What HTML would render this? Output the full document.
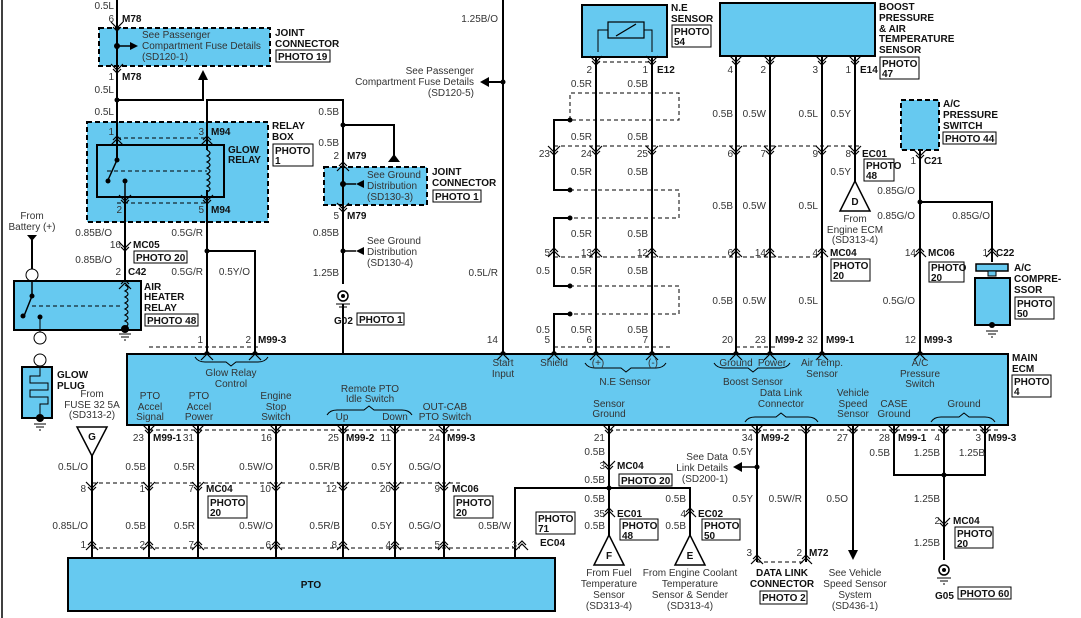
<!DOCTYPE html>
<html><head><meta charset="utf-8"><style>
body{margin:0;background:#fff;}
svg{display:block;font-family:"Liberation Sans",sans-serif;}
.t{font-size:10px;fill:#333;}
.b{font-size:10px;font-weight:bold;fill:#111;}
.m{text-anchor:middle;}
.r{text-anchor:end;}
.w{stroke:#000;stroke-width:2;fill:none;}
.d{stroke:#000;stroke-width:1;stroke-dasharray:4,3;fill:none;}
.c{fill:#66c9f0;stroke:#000;stroke-width:2;}
.cd{fill:#66c9f0;stroke:#000;stroke-width:2;stroke-dasharray:5,3;}
.p{fill:#fff;stroke:#000;stroke-width:1;}
</style></head><body>
<svg width="1081" height="618" viewBox="0 0 1081 618">
<defs>
<path id="v" d="M-6,-4 L0,2 L6,-4 M-4,1 L0,5 L4,1" stroke="#000" stroke-width="1.2" fill="none"/>
<path id="a" d="M-6,4 L0,-2 L6,4 M-4,-1 L0,-5 L4,-1" stroke="#000" stroke-width="1.2" fill="none"/>
<g id="gnd"><circle r="5" fill="#fff" stroke="#000" stroke-width="1.5"/><circle r="2" fill="#000"/><path d="M-7,8 H7 M-4,11 H4 M-1,14 H1" stroke="#000"/></g>
<path id="eg" d="M-6,0 H6 M-4,3 H4 M-1,6 H1" stroke="#000" fill="none"/>
</defs>
<line x1="2" y1="0" x2="2" y2="618" stroke="#000" stroke-width="1.5"/>

<!-- ECM and PTO -->
<rect class="c" x="127" y="354" width="881" height="71"/>
<rect class="c" x="68" y="558" width="487" height="53"/>
<text class="b m" x="311" y="588">PTO</text>

<!-- top-left wires -->
<path class="w" d="M117,0 V122 M117,100 H203 V78 M207,122 V100 H343 V354 M343,125 H394 V156 M125,222 V281 M207,222 V354 M207,251 H255 V354 M503,0 V354 M503,82 H488"/>
<path d="M198,80 L203,70 L208,80Z M388,162 L394,154 L400,162Z M480,82 L489,77 L489,87Z"/>
<circle cx="117" cy="100" r="2.5"/><circle cx="343" cy="125" r="2.5"/><circle cx="207" cy="251" r="2.5"/><circle cx="503" cy="82" r="2.5"/>
<rect class="cd" x="99" y="28" width="171" height="38"/>
<path class="w" d="M117,28 V66"/><circle cx="117" cy="46" r="3"/><path d="M117,46 H130" stroke="#000" stroke-width="1.5"/><path d="M130,42 L138,46 L130,50Z"/>
<text class="t" x="142" y="38">See Passenger</text><text class="t" x="142" y="49">Compartment Fuse Details</text><text class="t" x="142" y="60">(SD120-1)</text>
<text class="t r" x="114" y="9">0.5L</text><text class="t r" x="114" y="22">6</text><text class="b" x="122" y="22">M78</text>
<use href="#v" x="117" y="26"/><use href="#v" x="117" y="68"/>
<text class="b" x="275" y="36">JOINT</text><text class="b" x="275" y="47">CONNECTOR</text>
<rect class="p" x="276" y="50" width="54" height="12"/><text class="b" x="278" y="60">PHOTO 19</text>
<text class="t r" x="114" y="80">1</text><text class="b" x="122" y="80">M78</text>
<text class="t r" x="114" y="93">0.5L</text><text class="t r" x="114" y="115">0.5L</text>

<rect class="cd" x="87" y="122" width="181" height="100"/>
<rect x="97" y="145" width="127" height="52" fill="none" stroke="#000" stroke-width="2"/>
<path class="d" d="M117,138 H207 M117,203 H207 M107,171 H207"/>
<path class="w" d="M117,122 V160 M125,197 V222 M207,122 V150 M207,190 V222"/>
<path d="M207,150 q6,3 0,6 q6,3 0,6 q6,3 0,6 q6,3 0,6 q6,3 0,6 q6,3 0,6 q6,3 0,6" stroke="#000" fill="none" stroke-width="1.2"/>
<path d="M117,160 L108,180" stroke="#000" stroke-width="1.5"/><circle cx="117" cy="160" r="2.5"/><circle cx="108" cy="181" r="2.5"/><circle cx="125" cy="181" r="2.5"/>
<path d="M125,181 V200" stroke="#000" stroke-width="1.5"/>
<use href="#a" x="117" y="141"/><use href="#a" x="207" y="141"/><use href="#v" x="125" y="199"/><use href="#v" x="207" y="199"/>
<text class="t r" x="114" y="135">1</text><text class="t r" x="204" y="135">3</text><text class="b" x="211" y="135">M94</text>
<text class="t r" x="122" y="213">2</text><text class="t r" x="204" y="213">5</text><text class="b" x="211" y="213">M94</text>
<text class="b" x="228" y="153">GLOW</text><text class="b" x="228" y="163">RELAY</text>
<text class="b" x="272" y="129">RELAY</text><text class="b" x="272" y="140">BOX</text>
<rect class="p" x="273" y="144" width="40" height="22"/><text class="b" x="275" y="154">PHOTO</text><text class="b" x="275" y="164">1</text>

<text class="t m" x="32" y="219">From</text><text class="t m" x="32" y="230">Battery (+)</text>
<path d="M27,235 L37,235 L32,241Z"/><path class="w" d="M32,240 V269"/><circle cx="32" cy="275" r="6" fill="#fff" stroke="#000"/>
<rect class="c" x="14" y="281" width="127" height="49"/>
<path d="M32,281 V296 L24,316" stroke="#000" stroke-width="1.5" fill="none"/><circle cx="32" cy="296" r="2.5"/><circle cx="23" cy="316" r="2.5"/><circle cx="40" cy="317" r="2.5"/>
<path class="d" d="M32,306 H122"/>
<path d="M125,285 q6,3 0,6 q6,3 0,6 q6,3 0,6 q6,3 0,6 q6,3 0,6 q6,3 0,6 q6,3 0,6" stroke="#000" fill="none" stroke-width="1.2"/>
<circle cx="125" cy="329" r="4"/><use href="#eg" x="125" y="334"/>
<path d="M40,318 V332" stroke="#000"/><circle cx="40" cy="338" r="6" fill="#fff" stroke="#000"/><circle cx="40" cy="360" r="6" fill="#fff" stroke="#000"/>
<rect class="c" x="22" y="367" width="30" height="51"/>
<path d="M40,367 V376 H30 V383 H48 V390 H30 V397 H48 V404 H40 V418" stroke="#000" fill="none"/>
<circle cx="40" cy="418" r="4"/><use href="#eg" x="40" y="424"/>
<text class="b" x="57" y="378">GLOW</text><text class="b" x="57" y="389">PLUG</text>
<text class="t r" x="112" y="236">0.85B/O</text><text class="t r" x="121" y="248">16</text><text class="b" x="133" y="248">MC05</text>
<use href="#v" x="125" y="246"/>
<rect class="p" x="134" y="251" width="53" height="12"/><text class="b" x="136" y="261">PHOTO 20</text>
<text class="t r" x="112" y="263">0.85B/O</text><text class="t r" x="121" y="275">2</text><text class="b" x="128" y="275">C42</text>
<use href="#a" x="125" y="285"/>
<text class="t r" x="203" y="236">0.5G/R</text><text class="t r" x="203" y="275">0.5G/R</text><text class="t r" x="250" y="275">0.5Y/O</text>
<text class="b" x="144" y="290">AIR</text><text class="b" x="144" y="300">HEATER</text><text class="b" x="144" y="311">RELAY</text>
<rect class="p" x="145" y="314" width="53" height="12"/><text class="b" x="147" y="324">PHOTO 48</text>

<!-- ground joint -->
<text class="t r" x="339" y="115">0.5B</text><text class="t r" x="339" y="146">0.5B</text>
<text class="t r" x="339" y="159">2</text><text class="b" x="347" y="159">M79</text>
<rect class="cd" x="324" y="167" width="103" height="38"/>
<path class="w" d="M343,167 V205"/><circle cx="343" cy="184" r="3"/><path d="M343,184 H356" stroke="#000" stroke-width="1.5"/><path d="M364,180 L356,184 L364,188Z"/>
<use href="#a" x="343" y="167"/><use href="#v" x="343" y="207"/>
<text class="t" x="367" y="178">See Ground</text><text class="t" x="367" y="189">Distribution</text><text class="t" x="367" y="200">(SD130-3)</text>
<text class="b" x="432" y="175">JOINT</text><text class="b" x="432" y="186">CONNECTOR</text>
<rect class="p" x="433" y="190" width="48" height="12"/><text class="b" x="435" y="200">PHOTO 1</text>
<text class="t r" x="339" y="219">5</text><text class="b" x="347" y="219">M79</text>
<text class="t r" x="339" y="236">0.85B</text><text class="t r" x="339" y="276">1.25B</text>
<circle cx="343" cy="251" r="2.5"/><path d="M343,251 H356" stroke="#000" stroke-width="1.5"/><path d="M364,247 L356,251 L364,255Z"/>
<text class="t" x="367" y="244">See Ground</text><text class="t" x="367" y="255">Distribution</text><text class="t" x="367" y="266">(SD130-4)</text>
<rect x="340" y="284" width="8" height="20" fill="#fff"/><use href="#gnd" x="343" y="296"/>
<text class="b" x="334" y="324">G02</text><rect class="p" x="357" y="313" width="47" height="12"/><text class="b" x="359" y="323">PHOTO 1</text>

<text class="t r" x="498" y="22">1.25B/O</text>
<text class="t r" x="474" y="74">See Passenger</text><text class="t r" x="474" y="85">Compartment Fuse Details</text><text class="t r" x="474" y="96">(SD120-5)</text>
<text class="t r" x="498" y="276">0.5L/R</text><text class="t r" x="498" y="343">14</text>

<!-- N.E sensor / shield -->
<rect class="c" x="582" y="5" width="85" height="52"/>
<rect x="608" y="22" width="36" height="16" fill="none" stroke="#000" stroke-width="1.2"/><path d="M616,36 L636,24" stroke="#000" stroke-width="1.2"/>
<path d="M608,30 H598 V52 M644,30 H652 V52" stroke="#000" fill="none"/>
<text class="b" x="671" y="11">N.E</text><text class="b" x="671" y="22">SENSOR</text>
<rect class="p" x="672" y="25" width="39" height="22"/><text class="b" x="674" y="35">PHOTO</text><text class="b" x="674" y="45">54</text>
<path class="w" d="M596,57 V354 M652,57 V354"/>
<path class="d" d="M596,62 H652 M554,146 H860 M554,257 H822 M554,347 H672 M736,347 H776 M149,347 H260"/>
<path class="d" d="M570,120 V93 H679 V120 H570 M570,190 H679 V218 H570 M570,286 H679 V314 H570"/>
<path class="w" d="M570,120 H554 V190 H570 M570,218 H554 V286 H570 M570,314 H554 V354"/>
<circle cx="570" cy="120" r="2.5"/><circle cx="570" cy="190" r="2.5"/><circle cx="570" cy="218" r="2.5"/><circle cx="570" cy="286" r="2.5"/><circle cx="570" cy="314" r="2.5"/>
<text class="t r" x="592" y="73">2</text><text class="t r" x="648" y="73">1</text><text class="b" x="657" y="73">E12</text>
<g class="t r">
<text x="592" y="87">0.5R</text><text x="648" y="87">0.5B</text>
<text x="592" y="140">0.5R</text><text x="648" y="140">0.5B</text>
<text x="592" y="175">0.5R</text><text x="648" y="175">0.5B</text>
<text x="592" y="237">0.5R</text><text x="648" y="237">0.5B</text>
<text x="592" y="274">0.5R</text><text x="648" y="274">0.5B</text><text x="550" y="274">0.5</text>
<text x="592" y="333">0.5R</text><text x="648" y="333">0.5B</text><text x="550" y="333">0.5</text>
<text x="550" y="157">23</text><text x="592" y="157">24</text><text x="648" y="157">25</text><text x="733" y="157">6</text><text x="766" y="157">7</text><text x="818" y="157">9</text><text x="851" y="157">8</text>
<text x="550" y="256">5</text><text x="592" y="256">13</text><text x="648" y="256">12</text><text x="733" y="256">6</text><text x="766" y="256">14</text><text x="818" y="256">4</text>
<text x="550" y="343">5</text><text x="592" y="343">6</text><text x="648" y="343">7</text><text x="733" y="343">20</text><text x="766" y="343">23</text><text x="818" y="343">32</text><text x="916" y="343">12</text><text x="203" y="343">1</text><text x="251" y="343">2</text>
<text x="733" y="73">4</text><text x="766" y="73">2</text><text x="818" y="73">3</text><text x="851" y="73">1</text>
<text x="733" y="117">0.5B</text><text x="766" y="117">0.5W</text><text x="818" y="117">0.5L</text><text x="851" y="117">0.5Y</text>
<text x="733" y="209">0.5B</text><text x="766" y="209">0.5W</text><text x="818" y="209">0.5L</text><text x="851" y="175">0.5Y</text>
<text x="733" y="304">0.5B</text><text x="766" y="304">0.5W</text><text x="818" y="304">0.5L</text><text x="915" y="304">0.5G/O</text>
<text x="915" y="194">0.85G/O</text><text x="915" y="219">0.85G/O</text><text x="990" y="219">0.85G/O</text>
<text x="916" y="164">1</text><text x="916" y="256">14</text><text x="988" y="256">1</text>
</g>
<g>
<use href="#v" x="554" y="150"/><use href="#v" x="596" y="150"/><use href="#v" x="652" y="150"/><use href="#v" x="736" y="150"/><use href="#v" x="770" y="150"/><use href="#v" x="822" y="150"/><use href="#v" x="855" y="150"/>
<use href="#a" x="554" y="253"/><use href="#a" x="596" y="253"/><use href="#a" x="652" y="253"/><use href="#a" x="736" y="253"/><use href="#a" x="770" y="253"/><use href="#a" x="822" y="253"/><use href="#a" x="920" y="253"/><use href="#a" x="992" y="253"/>
<use href="#v" x="596" y="60"/><use href="#v" x="652" y="60"/><use href="#v" x="736" y="60"/><use href="#v" x="770" y="60"/><use href="#v" x="822" y="60"/><use href="#v" x="855" y="60"/><use href="#v" x="920" y="154"/>
<use href="#a" x="554" y="356"/><use href="#a" x="596" y="356"/><use href="#a" x="652" y="356"/><use href="#a" x="736" y="356"/><use href="#a" x="770" y="356"/><use href="#a" x="822" y="356"/><use href="#a" x="920" y="356"/><use href="#a" x="503" y="356"/><use href="#a" x="207" y="356"/><use href="#a" x="255" y="356"/>
</g>
<text class="b" x="862" y="157">EC01</text><rect class="p" x="864" y="159" width="30" height="22"/><text class="b" x="866" y="169">PHOTO</text><text class="b" x="866" y="179">48</text>
<text class="b" x="830" y="256">MC04</text><rect class="p" x="831" y="259" width="39" height="22"/><text class="b" x="833" y="269">PHOTO</text><text class="b" x="833" y="279">20</text>
<text class="b" x="775" y="343">M99-2</text><text class="b" x="826" y="343">M99-1</text><text class="b" x="924" y="343">M99-3</text><text class="b" x="258" y="343">M99-3</text>

<!-- boost -->
<rect class="c" x="720" y="3" width="155" height="53"/>
<path class="w" d="M736,56 V354 M770,56 V354 M822,56 V354 M855,56 V184"/>
<path d="M855,181 L840,211 L870,211Z" fill="#fff" stroke="#000" stroke-width="1.5"/><text class="b m" x="855" y="205">D</text>
<text class="t m" x="855" y="222">From</text><text class="t m" x="855" y="233">Engine ECM</text><text class="t m" x="855" y="243">(SD313-4)</text>
<text class="b" x="860" y="73">E14</text>
<text class="b" x="879" y="10">BOOST</text><text class="b" x="879" y="21">PRESSURE</text><text class="b" x="879" y="32">&amp; AIR</text><text class="b" x="879" y="42">TEMPERATURE</text><text class="b" x="879" y="53">SENSOR</text>
<rect class="p" x="880" y="57" width="39" height="22"/><text class="b" x="882" y="67">PHOTO</text><text class="b" x="882" y="77">47</text>

<!-- A/C -->
<rect class="cd" x="901" y="100" width="38" height="50"/>
<path class="w" d="M920,150 V354 M920,202 H992 V262"/><circle cx="920" cy="202" r="2.5"/>
<text class="b" x="943" y="107">A/C</text><text class="b" x="943" y="118">PRESSURE</text><text class="b" x="943" y="129">SWITCH</text>
<rect class="p" x="943" y="132" width="53" height="12"/><text class="b" x="945" y="142">PHOTO 44</text>
<text class="b" x="924" y="164">C21</text><text class="b" x="928" y="256">MC06</text>
<rect class="p" x="929" y="262" width="35" height="20"/><text class="b" x="931" y="271">PHOTO</text><text class="b" x="931" y="281">20</text>
<text class="b" x="996" y="256">C22</text>
<rect class="c" x="976" y="264" width="32" height="7" style="stroke-width:1.5"/><rect class="c" x="988" y="271" width="8" height="5" style="stroke-width:1"/>
<rect class="c" x="975" y="278" width="35" height="47"/><circle cx="992" cy="325" r="3"/><use href="#eg" x="992" y="331"/>
<text class="b" x="1014" y="271">A/C</text><text class="b" x="1014" y="282">COMPRE-</text><text class="b" x="1014" y="293">SSOR</text>
<rect class="p" x="1015" y="297" width="39" height="22"/><text class="b" x="1017" y="307">PHOTO</text><text class="b" x="1017" y="317">50</text>

<!-- ECM labels -->
<text class="b" x="1012" y="361">MAIN</text><text class="b" x="1012" y="372">ECM</text>
<rect class="p" x="1012" y="375" width="39" height="22"/><text class="b" x="1014" y="385">PHOTO</text><text class="b" x="1014" y="395">4</text>
<g fill="none" stroke="#000" stroke-width="1">
<path d="M195,357 q3,5 10,5 H226 l5,4 l5,-4 H258 q7,0 10,-5"/>
<path d="M585,363 q3,5 10,5 H621 l5,4 l5,-4 H656 q7,0 10,-5"/>
<path d="M714,363 q3,5 10,5 H748 l5,4 l5,-4 H780 q7,0 10,-5"/>
<path d="M327,415 q3,-5 10,-5 H364 l5,-4 l5,4 H402 q7,0 10,5"/>
<path d="M745,422 q3,-5 10,-5 H776 l5,-4 l5,4 H808 q7,0 10,5"/>
<path d="M931,422 q3,-5 10,-5 H959 l5,-4 l5,4 H985 q7,0 10,5"/>
</g>
<g class="t m">
<text x="231" y="376">Glow Relay</text><text x="231" y="387">Control</text>
<text x="503" y="366">Start</text><text x="503" y="377">Input</text>
<text x="554" y="366">Shield</text><text x="598" y="366">(+)</text><text x="653" y="366">(-)</text><text x="625" y="385">N.E Sensor</text>
<text x="736" y="366">Ground</text><text x="772" y="366">Power</text><text x="753" y="385">Boost Sensor</text>
<text x="822" y="366">Air Temp.</text><text x="822" y="377">Sensor</text>
<text x="920" y="366">A/C</text><text x="920" y="377">Pressure</text><text x="920" y="387">Switch</text>
<text x="150" y="399">PTO</text><text x="150" y="410">Accel</text><text x="150" y="420">Signal</text>
<text x="199" y="399">PTO</text><text x="199" y="410">Accel</text><text x="199" y="420">Power</text>
<text x="276" y="399">Engine</text><text x="276" y="410">Stop</text><text x="276" y="420">Switch</text>
<text x="370" y="392">Remote PTO</text><text x="370" y="402">Idle Switch</text><text x="342" y="420">Up</text><text x="395" y="420">Down</text>
<text x="445" y="410">OUT-CAB</text><text x="445" y="420">PTO Switch</text>
<text x="609" y="407">Sensor</text><text x="609" y="417">Ground</text>
<text x="781" y="396">Data Link</text><text x="781" y="407">Connector</text>
<text x="853" y="396">Vehicle</text><text x="853" y="407">Speed</text><text x="853" y="417">Sensor</text>
<text x="894" y="407">CASE</text><text x="894" y="417">Ground</text><text x="964" y="407">Ground</text>
<text x="92" y="397">From</text><text x="92" y="408">FUSE 32 5A</text><text x="92" y="418">(SD313-2)</text>
</g>

<!-- bottom wires -->
<path d="M92,456 L77,427 L107,427Z" fill="#fff" stroke="#000" stroke-width="1.5"/><text class="b m" x="92" y="440">G</text>
<path class="w" d="M92,455 V558 M149,425 V558 M198,425 V558 M276,425 V558 M343,425 V558 M395,425 V558 M444,425 V558 M515,558 V488 H690 V540 M609,425 V540 M757,425 V562 M806,425 V562 M853,425 V552 M894,425 V475 H985 V425 M944,425 V562"/>
<circle cx="609" cy="488" r="2.5"/><circle cx="944" cy="475" r="2.5"/><circle cx="757" cy="467" r="2.5"/>
<path d="M757,467 H740" stroke="#000" stroke-width="1.5"/><path d="M742,462 L733,467 L742,472Z"/>
<path d="M848,550 L853,560 L858,550Z"/>
<path class="d" d="M149,430 H460 M609,430 H1000 M92,483 H460 M92,548 H520 M757,562 H806"/>
<g>
<use href="#v" x="149" y="429"/><use href="#v" x="198" y="429"/><use href="#v" x="276" y="429"/><use href="#v" x="343" y="429"/><use href="#v" x="395" y="429"/><use href="#v" x="444" y="429"/><use href="#v" x="609" y="429"/><use href="#v" x="757" y="429"/><use href="#v" x="806" y="429"/><use href="#v" x="853" y="429"/><use href="#v" x="894" y="429"/><use href="#v" x="944" y="429"/><use href="#v" x="985" y="429"/>
<use href="#v" x="92" y="486"/><use href="#v" x="149" y="486"/><use href="#v" x="198" y="486"/><use href="#v" x="276" y="486"/><use href="#v" x="343" y="486"/><use href="#v" x="395" y="486"/><use href="#v" x="444" y="486"/><use href="#v" x="609" y="465"/><use href="#v" x="944" y="522"/>
<use href="#a" x="92" y="546"/><use href="#a" x="149" y="546"/><use href="#a" x="198" y="546"/><use href="#a" x="276" y="546"/><use href="#a" x="343" y="546"/><use href="#a" x="395" y="546"/><use href="#a" x="444" y="546"/><use href="#a" x="522" y="546"/><use href="#a" x="609" y="513"/><use href="#a" x="690" y="513"/><use href="#a" x="757" y="560"/><use href="#a" x="806" y="560"/>
</g>
<g class="t r">
<text x="144" y="441">23</text><text x="194" y="441">31</text><text x="272" y="441">16</text><text x="339" y="441">25</text><text x="391" y="441">11</text><text x="440" y="441">24</text>
<text x="605" y="441">21</text><text x="753" y="441">34</text><text x="848" y="441">27</text><text x="890" y="441">28</text><text x="940" y="441">4</text><text x="981" y="441">3</text>
<text x="88" y="470">0.5L/O</text><text x="146" y="470">0.5B</text><text x="195" y="470">0.5R</text><text x="273" y="470">0.5W/O</text><text x="340" y="470">0.5R/B</text><text x="392" y="470">0.5Y</text><text x="441" y="470">0.5G/O</text>
<text x="86" y="492">8</text><text x="145" y="492">1</text><text x="194" y="492">7</text><text x="271" y="492">10</text><text x="337" y="492">12</text><text x="391" y="492">20</text><text x="440" y="492">9</text>
<text x="88" y="529">0.85L/O</text><text x="146" y="529">0.5B</text><text x="195" y="529">0.5R</text><text x="273" y="529">0.5W/O</text><text x="340" y="529">0.5R/B</text><text x="392" y="529">0.5Y</text><text x="441" y="529">0.5G/O</text><text x="511" y="529">0.5B/W</text>
<text x="86" y="548">1</text><text x="145" y="548">2</text><text x="194" y="548">7</text><text x="271" y="548">6</text><text x="337" y="548">8</text><text x="391" y="548">4</text><text x="440" y="548">5</text><text x="517" y="548">3</text>
<text x="605" y="455">0.5B</text><text x="605" y="469">3</text><text x="605" y="483">0.5B</text><text x="605" y="502">0.5B</text><text x="605" y="517">35</text><text x="605" y="529">0.5B</text>
<text x="686" y="502">0.5B</text><text x="686" y="517">4</text><text x="686" y="529">0.5B</text>
<text x="753" y="455">0.5Y</text><text x="753" y="502">0.5Y</text><text x="802" y="502">0.5W/R</text><text x="752" y="556">3</text><text x="802" y="556">2</text>
<text x="848" y="502">0.5O</text><text x="890" y="456">0.5B</text><text x="940" y="456">1.25B</text><text x="985" y="456">1.25B</text>
<text x="940" y="502">1.25B</text><text x="940" y="524">2</text><text x="940" y="546">1.25B</text>
<text x="728" y="460">See Data</text><text x="728" y="471">Link Details</text><text x="728" y="482">(SD200-1)</text>
</g>
<g class="b">
<text x="153" y="441">M99-1</text><text x="346" y="441">M99-2</text><text x="447" y="441">M99-3</text><text x="761" y="441">M99-2</text><text x="898" y="441">M99-1</text><text x="988" y="441">M99-3</text>
<text x="206" y="492">MC04</text><text x="452" y="492">MC06</text><text x="617" y="469">MC04</text><text x="617" y="517">EC01</text><text x="698" y="517">EC02</text><text x="540" y="546">EC04</text><text x="809" y="556">M72</text><text x="953" y="524">MC04</text>
</g>
<rect class="p" x="208" y="496" width="39" height="22"/><text class="b" x="210" y="506">PHOTO</text><text class="b" x="210" y="516">20</text>
<rect class="p" x="454" y="496" width="39" height="22"/><text class="b" x="456" y="506">PHOTO</text><text class="b" x="456" y="516">20</text>
<rect class="p" x="536" y="512" width="39" height="22"/><text class="b" x="538" y="522">PHOTO</text><text class="b" x="538" y="532">71</text>
<rect class="p" x="619" y="474" width="53" height="12"/><text class="b" x="621" y="484">PHOTO 20</text>
<rect class="p" x="620" y="519" width="38" height="21"/><text class="b" x="622" y="529">PHOTO</text><text class="b" x="622" y="539">48</text>
<rect class="p" x="702" y="519" width="38" height="21"/><text class="b" x="704" y="529">PHOTO</text><text class="b" x="704" y="539">50</text>
<rect class="p" x="955" y="527" width="38" height="21"/><text class="b" x="957" y="537">PHOTO</text><text class="b" x="957" y="547">20</text>
<path d="M609,535 L594,565 L624,565Z" fill="#fff" stroke="#000" stroke-width="1.5"/><text class="b m" x="609" y="559">F</text>
<path d="M690,535 L675,565 L705,565Z" fill="#fff" stroke="#000" stroke-width="1.5"/><text class="b m" x="690" y="559">E</text>
<g class="t m">
<text x="609" y="576">From Fuel</text><text x="609" y="587">Temperature</text><text x="609" y="598">Sensor</text><text x="609" y="609">(SD313-4)</text>
<text x="690" y="576">From Engine Coolant</text><text x="690" y="587">Temperature</text><text x="690" y="598">Sensor &amp; Sender</text><text x="690" y="609">(SD313-4)</text>
<text x="855" y="576">See Vehicle</text><text x="855" y="587">Speed Sensor</text><text x="855" y="598">System</text><text x="855" y="609">(SD436-1)</text>
</g>
<text class="b m" x="782" y="576">DATA LINK</text><text class="b m" x="782" y="587">CONNECTOR</text>
<rect class="p" x="760" y="591" width="47" height="13"/><text class="b" x="762" y="601">PHOTO 2</text>
<rect x="940" y="560" width="8" height="20" fill="#fff"/><use href="#gnd" x="944" y="570"/>
<text class="b" x="935" y="599">G05</text><rect class="p" x="958" y="587" width="53" height="12"/><text class="b" x="960" y="597">PHOTO 60</text>
</svg>
</body></html>
